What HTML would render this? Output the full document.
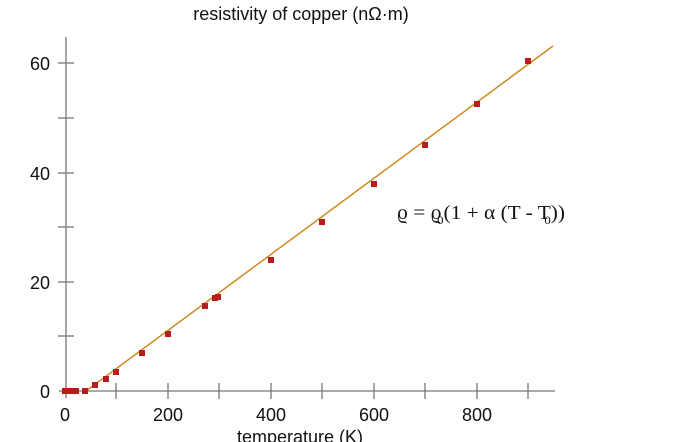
<!DOCTYPE html>
<html><head><style>body{margin:0;background:#fff}</style></head><body>
<svg width="697" height="442" xmlns="http://www.w3.org/2000/svg" style="display:block">
<rect width="697" height="442" fill="#fff"/>
<g font-family="Liberation Sans, sans-serif" font-size="18" fill="#111">
<text x="301" y="20" text-anchor="middle" font-size="18">resistivity of copper (nΩ·m)</text>
<text x="300" y="443" text-anchor="middle">temperature (K)</text>
<text x="50" y="70" text-anchor="end">60</text>
<text x="50" y="180" text-anchor="end">40</text>
<text x="50" y="289" text-anchor="end">20</text>
<text x="50" y="398" text-anchor="end">0</text>
<text x="65" y="421" text-anchor="middle">0</text>
<text x="168" y="421" text-anchor="middle">200</text>
<text x="271" y="421" text-anchor="middle">400</text>
<text x="374" y="421" text-anchor="middle">600</text>
<text x="477" y="421" text-anchor="middle">800</text>
</g>
<g stroke="#777" stroke-width="1.3">
<line x1="66" y1="37" x2="66" y2="398"/>
<line x1="59" y1="391" x2="555" y2="391"/>
<line x1="58" y1="63" x2="74" y2="63"/>
<line x1="58" y1="118" x2="74" y2="118"/>
<line x1="58" y1="173" x2="74" y2="173"/>
<line x1="58" y1="227" x2="74" y2="227"/>
<line x1="58" y1="282" x2="74" y2="282"/>
<line x1="58" y1="336" x2="74" y2="336"/>
<line x1="116" y1="383" x2="116" y2="399"/>
<line x1="168" y1="383" x2="168" y2="399"/>
<line x1="219" y1="383" x2="219" y2="399"/>
<line x1="271" y1="383" x2="271" y2="399"/>
<line x1="322" y1="383" x2="322" y2="399"/>
<line x1="374" y1="383" x2="374" y2="399"/>
<line x1="425" y1="383" x2="425" y2="399"/>
<line x1="477" y1="383" x2="477" y2="399"/>
<line x1="528" y1="383" x2="528" y2="399"/>
</g>
<line x1="86" y1="391" x2="553" y2="46" stroke="#d08a20" stroke-width="1.5"/>
<g fill="#b81c1c">
<rect x="62" y="388" width="6" height="6"/><rect x="66" y="388" width="6" height="6"/>
<rect x="70" y="388" width="6" height="6"/><rect x="73" y="388" width="6" height="6"/>
<rect x="82" y="388" width="6" height="6"/><rect x="92" y="382" width="6" height="6"/>
<rect x="103" y="376" width="6" height="6"/><rect x="113" y="369" width="6" height="6"/>
<rect x="139" y="350" width="6" height="6"/><rect x="165" y="331" width="6" height="6"/>
<rect x="202" y="303" width="6" height="6"/><rect x="212" y="295" width="6" height="6"/>
<rect x="215" y="294" width="6" height="6"/><rect x="268" y="257" width="6" height="6"/>
<rect x="319" y="219" width="6" height="6"/><rect x="371" y="181" width="6" height="6"/>
<rect x="422" y="142" width="6" height="6"/><rect x="474" y="101" width="6" height="6"/>
<rect x="525" y="58" width="6" height="6"/>
</g>
<g font-family="Liberation Serif, serif" font-size="20" fill="#111">
<text x="397" y="219" textLength="168" lengthAdjust="spacingAndGlyphs">ϱ = ϱ<tspan font-size="12" dx="-4" dy="5">0</tspan><tspan dy="-5">(1 + α (T - T</tspan><tspan font-size="12" dx="-6" dy="5">0</tspan><tspan dy="-5">))</tspan></text>
</g>
</svg>
</body></html>
